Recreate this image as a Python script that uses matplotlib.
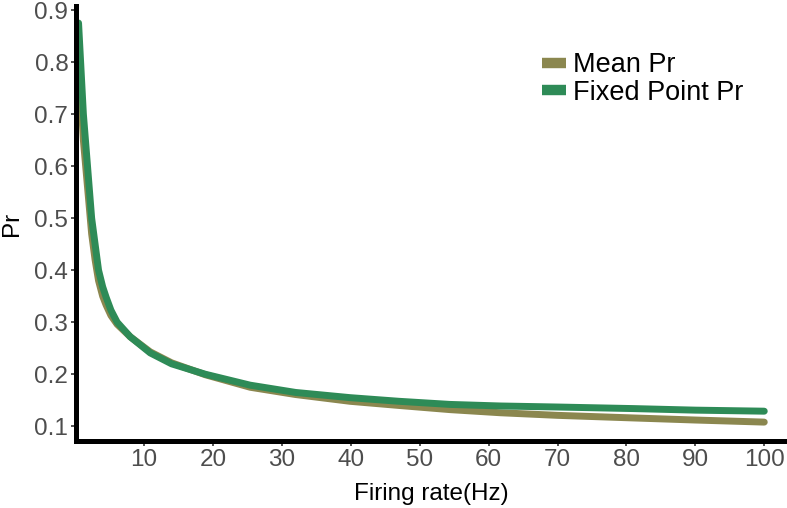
import numpy as np
import matplotlib
matplotlib.use("Agg")
import matplotlib.pyplot as plt

plt.rcParams['font.family'] = ['Liberation Sans', 'DejaVu Sans']

# firing rate (Hz) and release probability
rate = [0.5, 0.8, 1.2, 1.8, 2.4, 2.9, 3.4, 4.0, 4.5, 5.2, 6.1, 8, 10.9, 14,
        18.9, 25.4, 32, 39.9, 47, 54.4, 61.7, 70, 81, 90, 100]
mean_pr = [0.82, 0.74, 0.65, 0.56, 0.47, 0.42, 0.38, 0.35, 0.333, 0.313,
           0.296, 0.272, 0.243, 0.222, 0.199, 0.175, 0.161, 0.148, 0.14,
           0.132, 0.126, 0.121, 0.116, 0.112, 0.108]
fixed_pr = [0.875, 0.8, 0.7, 0.6, 0.5, 0.45, 0.4, 0.368, 0.348, 0.323, 0.3,
            0.272, 0.241, 0.22, 0.2, 0.179, 0.165, 0.155, 0.148, 0.142,
            0.139, 0.137, 0.134, 0.131, 0.129]

labels = ["Mean Pr", "Fixed Point Pr"]
colors = ["#8b874f", "#2e8b57"]


def main():
    fig = plt.figure(figsize=(7.87, 5.08), dpi=100)
    ax = fig.add_axes([76 / 787, 67 / 508, 1 - 76 / 787, (441 - 6) / 508])

    ax.plot(rate, mean_pr, color=colors[0], lw=5, solid_capstyle='round',
            solid_joinstyle='round', label=labels[0])
    ax.plot(rate, fixed_pr, color=colors[1], lw=5, solid_capstyle='round',
            solid_joinstyle='round', label=labels[1])

    ax.set_xlim(0.13, 103.3)
    ax.set_ylim(0.0717, 0.9077)
    ax.set_xticks(np.arange(10, 101, 10))
    yt = np.round(np.arange(0.1, 0.91, 0.1), 1)
    ax.set_yticks(yt)
    ax.set_yticklabels([f"{v:.1f}" for v in yt])

    for s in ["top", "right"]:
        ax.spines[s].set_visible(False)
    for s in ["left", "bottom"]:
        ax.spines[s].set_linewidth(3.6)
        ax.spines[s].set_color("black")
    ax.tick_params(length=3.5, width=1.2, color="#333333", labelsize=17.5,
                   labelcolor="#4d4d4d", pad=2)

    ax.set_xlabel("Firing rate(Hz)", fontsize=17.5, labelpad=9)
    ax.set_ylabel("Pr", fontsize=17.5, labelpad=8)

    leg = ax.legend(loc="upper left", bbox_to_anchor=(542 / 787, 1 - 52 / 508),
                    bbox_transform=fig.transFigure, frameon=False, fontsize=19.5,
                    borderpad=0, borderaxespad=0,
                    handlelength=0.9, handletextpad=0.25, labelspacing=0.06)
    for h in leg.get_lines():
        h.set_linewidth(7.5)
        h.set_solid_capstyle('butt')

    fig.savefig("out.png", dpi=100)


if __name__ == "__main__":
    main()
